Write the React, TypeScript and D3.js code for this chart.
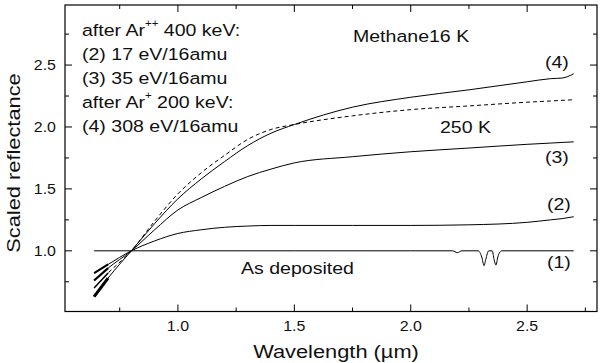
import { useRef, useEffect } from "react";
import * as d3 from "d3";

// wavelength grid (µm) shared by the smooth curves
const wavelengths = [0.64, 0.7, 0.8, 0.9, 1.0, 1.1, 1.2, 1.3, 1.4, 1.5, 1.75, 2.0, 2.25, 2.5, 2.6, 2.65, 2.7];
const refl2 = [0.82, 0.89, 1.0, 1.08, 1.14, 1.17, 1.19, 1.2, 1.205, 1.205, 1.205, 1.205, 1.21, 1.23, 1.25, 1.26, 1.275];
const refl3 = [0.76, 0.86, 1.0, 1.17, 1.33, 1.43, 1.52, 1.6, 1.66, 1.71, 1.76, 1.8, 1.83, 1.86, 1.87, 1.875, 1.88];
const refl4 = [0.63, 0.78, 1.0, 1.22, 1.42, 1.58, 1.72, 1.85, 1.95, 2.02, 2.16, 2.24, 2.3, 2.365, 2.39, 2.395, 2.43];
const refl250K = [0.7, 0.82, 1.0, 1.24, 1.46, 1.63, 1.77, 1.9, 1.98, 2.02, 2.09, 2.14, 2.17, 2.2, 2.21, 2.215, 2.22];

// as deposited, with the CH4 bands near 2.2-2.37 µm
const wavelengths1 = [0.64, 0.8, 1.0, 1.5, 2.0, 2.18, 2.2, 2.22, 2.29, 2.305, 2.315, 2.322, 2.335, 2.35, 2.358, 2.366, 2.374, 2.39, 2.7];
const refl1 = [1.0, 1.0, 1.0, 1.0, 1.0, 1.0, 0.985, 1.0, 1.0, 0.95, 0.88, 0.93, 1.0, 1.0, 0.93, 0.885, 0.95, 1.0, 1.0];

const xMajorTicks = [1.0, 1.5, 2.0, 2.5];
const xMinorTicks = [0.75, 1.25, 1.75, 2.25, 2.75];
const yMajorTicks = [1.0, 1.5, 2.0, 2.5];
const yMinorTicks = [0.75, 1.25, 1.75, 2.25, 2.75];

const W = 600;
const H = 363;
const left = 65, right = 597, top = 5, bottom = 311.5;

export default function App() {
  const svgRef = useRef(null);

  useEffect(() => {
    const svg = d3.select(svgRef.current);
    svg.selectAll("*").remove();

    const x = d3.scaleLinear().domain([0.515, 2.8]).range([left, right]);
    const y = d3.scaleLinear().domain([0.51, 2.985]).range([bottom, top]);

    const font = "'Liberation Sans', Arial, sans-serif";

    svg.append("defs").append("clipPath").attr("id", "plot")
      .append("rect").attr("x", left).attr("y", top)
      .attr("width", right - left).attr("height", bottom - top);

    const line = d3.line().x((d) => x(d[0])).y((d) => y(d[1])).curve(d3.curveMonotoneX);
    const g = svg.append("g").attr("clip-path", "url(#plot)");

    const series = [
      { wl: wavelengths1, r: refl1, dash: null, noise: 1.8 },
      { wl: wavelengths, r: refl2, dash: null, noise: 2 },
      { wl: wavelengths, r: refl3, dash: null, noise: 2.2 },
      { wl: wavelengths, r: refl4, dash: null, noise: 3 },
      { wl: wavelengths, r: refl250K, dash: "4,3", noise: 1.5 },
    ];

    series.forEach((s) => {
      const pts = s.wl.map((w, i) => [w, s.r[i]]);
      g.append("path").attr("d", line(pts))
        .attr("fill", "none").attr("stroke", "#000").attr("stroke-width", 1)
        .attr("stroke-dasharray", s.dash);
      // noisy start of the spectra
      const start = pts.filter((p) => p[0] <= 0.7);
      g.append("path").attr("d", line(start))
        .attr("fill", "none").attr("stroke", "#000").attr("stroke-width", s.noise);
    });

    // frame
    svg.append("rect").attr("x", left).attr("y", top)
      .attr("width", right - left).attr("height", bottom - top)
      .attr("fill", "none").attr("stroke", "#000").attr("stroke-width", 1.2);

    const ticks = svg.append("g").attr("stroke", "#000").attr("stroke-width", 1);
    const xt = (vals, len) => vals.forEach((v) => {
      ticks.append("line").attr("x1", x(v)).attr("x2", x(v)).attr("y1", bottom).attr("y2", bottom - len);
      ticks.append("line").attr("x1", x(v)).attr("x2", x(v)).attr("y1", top).attr("y2", top + len);
    });
    const yt = (vals, len) => vals.forEach((v) => {
      ticks.append("line").attr("y1", y(v)).attr("y2", y(v)).attr("x1", left).attr("x2", left + len);
      ticks.append("line").attr("y1", y(v)).attr("y2", y(v)).attr("x1", right).attr("x2", right - len);
    });
    xt(xMajorTicks, 7); xt(xMinorTicks, 4);
    yt(yMajorTicks, 7); yt(yMinorTicks, 4);

    // text, slightly widened like the original figure's font
    const label = (tx, ty, txt, size, sx = 1.15, anchor = "start", rot = 0) =>
      svg.append("text")
        .attr("transform", `translate(${tx},${ty}) rotate(${rot}) scale(${sx},1)`)
        .attr("text-anchor", anchor).attr("fill", "#111")
        .style("font-family", font).style("font-size", size + "px").text(txt);

    xMajorTicks.forEach((d) => label(x(d), bottom + 19.5, d.toFixed(1), 14.5, 1.1, "middle"));
    yMajorTicks.forEach((d) => label(left - 9, y(d) + 5, d.toFixed(1), 14.5, 1.1, "end"));

    label(336, 358, "Wavelength (\u00b5m)", 18.5, 1.18, "middle");
    label(20, 163, "Scaled reflectance", 18.5, 1.18, "middle", -90);

    const a1 = label(82, 36, "after Ar", 17);
    a1.append("tspan").attr("dy", -9).style("font-size", "10px").text("++");
    a1.append("tspan").attr("dy", 9).text(" 400 keV:");
    label(82, 60, "(2) 17 eV/16amu", 17);
    label(82, 84, "(3) 35 eV/16amu", 17);
    const a2 = label(82, 108, "after Ar", 17);
    a2.append("tspan").attr("dy", -9).style("font-size", "10px").text("+");
    a2.append("tspan").attr("dy", 9).text(" 200 keV:");
    label(82, 132, "(4) 308 eV/16amu", 17);

    label(353, 42, "Methane16 K", 17);
    label(440, 133, "250 K", 17);
    label(241, 274, "As deposited", 17);
    label(545, 68, "(4)", 17);
    label(545, 163, "(3)", 17);
    label(547, 210, "(2)", 17);
    label(547, 268, "(1)", 17);
  }, []);

  return (
    <svg ref={svgRef} width={W} height={H}
      style={{ position: "absolute", left: 0, top: 0, background: "#fff" }} />
  );
}
